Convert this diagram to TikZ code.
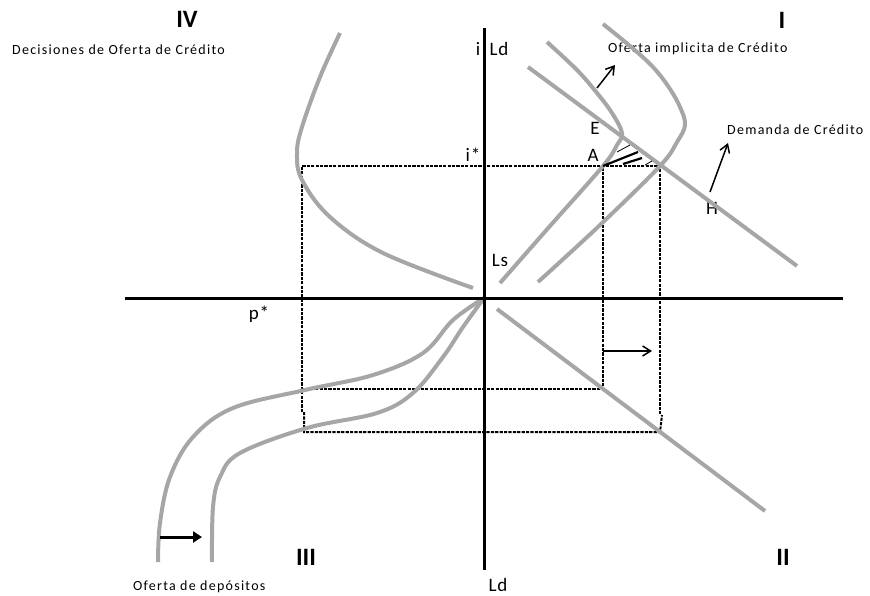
\documentclass[tikz,border=0pt]{standalone}
\usepackage{fontspec}
\setmainfont{Carlito}
\usetikzlibrary{arrows.meta}
\definecolor{curvegray}{HTML}{A6A6A6}

\begin{document}
\begin{tikzpicture}[x=1pt,y=-1pt,font=\fontsize{14}{16}\selectfont,
 curv/.style={curvegray,line width=4pt},
 axis/.style={line width=3pt},
 guide/.style={line width=2pt,dash pattern=on 3.2pt off 1.2pt},
 shiftarr/.style={line width=1.5pt,-{Straight Barb[length=8pt,width=10pt]}},
 lbl/.style={inner sep=1pt,font=\fontsize{19}{22}\selectfont\addfontfeature{LetterSpace=4}},
 quad/.style={font=\fontsize{25}{27}\selectfont\bfseries},
 note/.style={anchor=west,inner sep=0pt,font=\fontsize{14}{16}\selectfont\addfontfeature{LetterSpace=9}}]
 \useasboundingbox(0,0)rectangle(870,595);
 % key points
 \coordinate(O)at(484,298);
 \coordinate(A)at(603,166);\coordinate(B)at(660,166);
 \coordinate(A2)at(603,389);\coordinate(B2)at(660,432);
 % texts
 \node[quad](q4)at(187,19){IV};
 \node[quad](q1)at(782,20){I};
 \node[quad](q3)at(306,557){III};
 \node[quad](q2)at(783,557){II};
 \node[note](decis)at(12,50){Decisiones de Oferta de Crédito};
 \node[note](ofimp)at(608,49){Oferta implicita de Crédito};
 \node[note](dem)at(727,130){Demanda de Crédito};
 \node[note](ofdep)at(133,587){Oferta de depósitos};
 \node[lbl](ilab)at(478,49){i};
 \node[lbl](ldtop)at(499,49){Ld};
 \node[lbl](istar)at(473,155){i*};
 \node[lbl](elab)at(595,128){E};
 \node[lbl](alab)at(593,155){A};
 \node[lbl](hlab)at(712,208){H};
 \node[lbl](ls)at(500,260){Ls};
 \node[lbl](pstar)at(259,314){p*};
 \node[lbl](ldbot)at(498,585){Ld};
 % dashed guides
 \draw[guide](302,412)--(302,166)--(B)--(660,415);
 \draw[guide](304,412)--(304,432)--(B2)--(662,415);
 \draw[guide](302,389)--(A2)--(A);
 % curves
 \draw[curv](528,67)--(797,266);
 \draw[curv]plot[smooth,tension=.6]coordinates{(500,283)(550,226)(A)(617,145)(622,133)(612,113)(597,93)(577,70)(547,42)};
 \draw[curv]plot[smooth,tension=.6]coordinates{(538,282)(600,225)(B)(677,142)(685,125)(680,107)(668,86)(652,66)(630,46)(603,24)};
 \draw[curv]plot[smooth,tension=.6]coordinates{(340,33)(320,77)(302,127)(297,153)(302,180)(330,217)(383,253)(473,288)};
 \draw[curv](497,309)--(765,511);
 \draw[curv]plot[smooth,tension=.6]coordinates{(O)(453,320)(423,353)(373,375)(305,390)(233,408)(193,437)(170,477)(160,523)(158,562)};
 \draw[curv]plot[smooth,tension=.6]coordinates{(O)(463,327)(443,357)(413,393)(377,413)(307,428)(240,453)(220,477)(213,507)(212,562)};
 % hatch between A and the new point
 \draw[line width=.8pt](617,152)--(630,145)(645,165)--(652,161);
 \draw[line width=2.2pt](A)--(638,152)(623,164)--(642,158);
 % axes
 \draw[axis](125,298)--(843,298);
 \draw[axis](484,28)--(484,570);
 % shift arrows
 \draw[shiftarr](597,88)--(615,65);
 \draw[shiftarr](710,192)--(728,143);
 \draw[shiftarr](603,351)--(652,351);
 \draw[line width=3pt,-{Triangle[length=9pt,width=11pt]}](160,537)--(202,537);
\end{tikzpicture}
\end{document}
